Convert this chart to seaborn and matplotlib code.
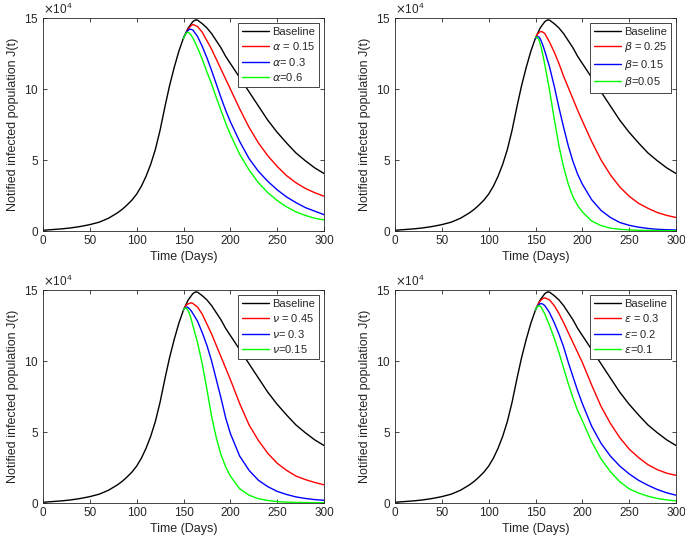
import numpy as np
import pandas as pd
import seaborn as sns
import matplotlib.pyplot as plt

# values, in units of 1e4 people
t_base = [0, 10, 20, 30, 40, 50, 60, 70, 80, 85, 90, 95, 100, 105, 110, 115, 120, 125, 130, 135, 140, 145,
          150, 155, 160, 163, 165, 170, 175, 180, 185, 190, 195, 200, 210, 220, 230, 240, 250,
          260, 270, 280, 290, 300]
j_base = [0.05, 0.1, 0.15, 0.22, 0.32, 0.45, 0.62, 0.9, 1.3, 1.55, 1.85, 2.18, 2.6, 3.15, 3.85, 4.7, 5.75,
          7.1, 8.7, 10.2, 11.5, 12.65, 13.6, 14.3, 14.75, 14.87, 14.85, 14.6, 14.3, 13.9, 13.4, 12.9, 12.3,
          11.8, 10.8, 9.8, 8.8, 7.8, 6.95, 6.2, 5.5, 4.95, 4.45, 4.05]

t_ctrl = [150, 152, 154, 156, 158, 160, 165, 170, 175, 180, 185, 190, 195, 200, 210, 220, 230, 240,
          250, 260, 270, 280, 290, 300]

# alpha panel
alpha_015 = [13.6, 13.85, 14.1, 14.3, 14.45, 14.55, 14.4, 14.0, 13.4, 12.8, 12.1, 11.4, 10.7, 10.0,
             8.6, 7.3, 6.2, 5.3, 4.55, 3.9, 3.4, 3.0, 2.7, 2.45]
alpha_03 = [13.6, 13.85, 14.05, 14.2, 14.2, 14.15, 13.7, 13.0, 12.2, 11.3, 10.35, 9.4, 8.5, 7.7,
            6.3, 5.1, 4.2, 3.5, 2.9, 2.4, 2.0, 1.65, 1.4, 1.15]
alpha_06 = [13.55, 13.85, 14.0, 13.95, 13.8, 13.6, 12.9, 12.1, 11.2, 10.35, 9.4, 8.5, 7.6, 6.8,
            5.4, 4.3, 3.4, 2.7, 2.15, 1.7, 1.35, 1.1, 0.9, 0.78]

# beta panel
beta_025 = [13.6, 13.85, 14.0, 14.05, 14.0, 13.9, 13.3, 12.6, 11.8, 10.9, 10.1, 9.3, 8.5, 7.75,
            6.3, 5.0, 3.95, 3.1, 2.45, 1.95, 1.6, 1.3, 1.1, 0.95]
beta_015 = [13.55, 13.7, 13.65, 13.4, 13.05, 12.65, 11.55, 10.2, 8.7, 7.3, 6.0, 4.9, 4.0, 3.3,
            2.2, 1.45, 0.95, 0.6, 0.4, 0.27, 0.18, 0.12, 0.09, 0.07]
beta_005 = [13.65, 13.65, 13.4, 12.95, 12.35, 11.7, 9.9, 7.9, 6.0, 4.5, 3.3, 2.4, 1.8, 1.35,
            0.7, 0.38, 0.2, 0.12, 0.08, 0.05, 0.04, 0.03, 0.02, 0.02]

# nu panel
nu_045 = [13.6, 13.85, 14.0, 14.05, 14.1, 14.05, 13.8, 13.3, 12.6, 11.9, 11.1, 10.3, 9.5, 8.7,
          7.0, 5.5, 4.4, 3.5, 2.8, 2.3, 1.9, 1.65, 1.45, 1.28]
nu_03 = [13.6, 13.75, 13.8, 13.7, 13.55, 13.35, 12.8, 12.0, 11.1, 10.0, 8.7, 7.4, 6.0, 4.9,
         3.3, 2.3, 1.6, 1.15, 0.82, 0.6, 0.43, 0.32, 0.24, 0.19]
nu_015 = [13.6, 13.75, 13.65, 13.4, 13.0, 12.5, 11.3, 9.8, 8.0, 6.1, 4.6, 3.4, 2.55, 1.9,
          1.0, 0.55, 0.3, 0.18, 0.1, 0.06, 0.04, 0.03, 0.02, 0.02]

# epsilon panel
eps_03 = [13.6, 13.9, 14.15, 14.3, 14.4, 14.45, 14.3, 13.9, 13.35, 12.7, 12.0, 11.3, 10.6, 9.9,
          8.3, 6.8, 5.6, 4.6, 3.8, 3.2, 2.7, 2.35, 2.1, 1.95]
eps_02 = [13.6, 13.85, 14.0, 14.05, 14.0, 13.9, 13.4, 12.7, 11.9, 11.0, 9.9, 8.9, 7.9, 7.0,
          5.4, 4.2, 3.3, 2.6, 2.05, 1.6, 1.25, 0.95, 0.72, 0.55]
eps_01 = [13.6, 13.85, 13.9, 13.8, 13.55, 13.3, 12.5, 11.6, 10.6, 9.5, 8.4, 7.4, 6.5, 5.8,
          4.3, 3.1, 2.2, 1.5, 1.0, 0.7, 0.48, 0.32, 0.22, 0.15]

panels = [
    ([r'$\alpha$ = 0.15', r'$\alpha$= 0.3', r'$\alpha$=0.6'], [alpha_015, alpha_03, alpha_06]),
    ([r'$\beta$ = 0.25', r'$\beta$= 0.15', r'$\beta$=0.05'], [beta_025, beta_015, beta_005]),
    ([r'$\nu$ = 0.45', r'$\nu$= 0.3', r'$\nu$=0.15'], [nu_045, nu_03, nu_015]),
    ([r'$\epsilon$ = 0.3', r'$\epsilon$= 0.2', r'$\epsilon$=0.1'], [eps_03, eps_02, eps_01]),
]

sns.set_style('ticks')
plt.rcParams['font.family'] = ['Liberation Sans', 'DejaVu Sans']
plt.rcParams['mathtext.fontset'] = 'dejavusans'
axcol = '#262626'

fig = plt.figure(figsize=(6.85, 5.46), dpi=100)
boxes = [(43, 18), (395, 18), (43, 290), (395, 290)]
W, H = 685, 546

for (lx, ty), (labels, series) in zip(boxes, panels):
    ax = fig.add_axes([lx / W, 1 - (ty + 213) / H, 281 / W, 213 / H])
    frames = [pd.DataFrame({'t': t_base, 'J': np.array(j_base) * 1e4, 's': 'Baseline'})]
    for lab, vals in zip(labels, series):
        frames.append(pd.DataFrame({'t': t_ctrl, 'J': np.array(vals) * 1e4, 's': lab}))
    df = pd.concat(frames, ignore_index=True)
    names = ['Baseline'] + labels
    sns.lineplot(data=df, x='t', y='J', hue='s', hue_order=names,
                 palette=['black', '#ff0000', '#0000ff', '#00ff00'],
                 estimator=None, sort=False, linewidth=1.0, legend=False, ax=ax)
    ax.set_xlim(0, 300)
    ax.set_ylim(0, 1.5e5)
    ax.set_xticks([0, 50, 100, 150, 200, 250, 300])
    ax.set_yticks([0, 5e4, 1e5, 1.5e5])
    ax.ticklabel_format(axis='y', style='sci', scilimits=(4, 4), useMathText=True)
    ax.yaxis.get_offset_text().set_fontsize(8.5)
    ax.yaxis.get_offset_text().set_color(axcol)
    ax.tick_params(direction='in', top=True, right=True, length=3, width=0.6,
                   labelsize=8.5, colors=axcol, pad=3)
    for sp in ax.spines.values():
        sp.set_visible(True)
        sp.set_color(axcol)
        sp.set_linewidth(0.6)
    ax.set_xlabel('Time (Days)', fontsize=9, color=axcol, labelpad=3)
    ax.set_ylabel('Notified infected population J(t)', fontsize=9, color=axcol, labelpad=4)
    leg = ax.legend(ax.lines, names, loc='upper right', fontsize=8, frameon=True,
                    fancybox=False, framealpha=1, edgecolor=axcol, handlelength=2.4,
                    handletextpad=0.3, labelspacing=0.3, borderpad=0.35, borderaxespad=0.45)
    leg.get_frame().set_linewidth(0.6)

fig.savefig('out.png', dpi=100)
